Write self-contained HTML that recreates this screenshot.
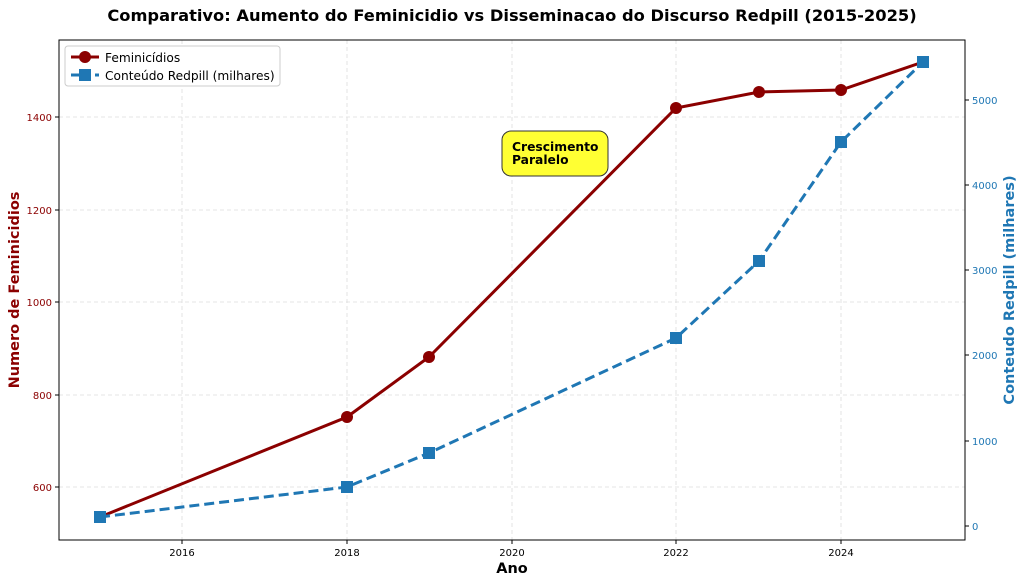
<!DOCTYPE html>
<html><head><meta charset="utf-8"><style>body{margin:0;background:#fff}</style></head><body>
<svg width="1024" height="583" xmlns="http://www.w3.org/2000/svg" font-family="DejaVu Sans, Liberation Sans, sans-serif">
<rect width="1024" height="583" fill="#fff"/>
<text x="512" y="21" text-anchor="middle" font-size="16.3" font-weight="bold">Comparativo: Aumento do Feminicidio vs Disseminacao do Discurso Redpill (2015-2025)</text>
<g stroke="#ddd" stroke-dasharray="4,3" stroke-width="0.8">
<line x1="182" y1="40" x2="182" y2="540"/><line x1="347" y1="40" x2="347" y2="540"/><line x1="512" y1="40" x2="512" y2="540"/><line x1="676" y1="40" x2="676" y2="540"/><line x1="841" y1="40" x2="841" y2="540"/>
<line x1="59" y1="117" x2="965" y2="117"/><line x1="59" y1="210" x2="965" y2="210"/><line x1="59" y1="302" x2="965" y2="302"/><line x1="59" y1="395" x2="965" y2="395"/><line x1="59" y1="487" x2="965" y2="487"/>
</g>
<rect x="59" y="40" width="906" height="500" fill="none" stroke="#000" stroke-width="1"/>
<g font-size="10" text-anchor="middle" fill="#000">
<text x="182" y="556">2016</text><text x="347" y="556">2018</text><text x="512" y="556">2020</text><text x="676" y="556">2022</text><text x="841" y="556">2024</text>
</g>
<g stroke="#000"><line x1="182" y1="540" x2="182" y2="544"/><line x1="347" y1="540" x2="347" y2="544"/><line x1="512" y1="540" x2="512" y2="544"/><line x1="676" y1="540" x2="676" y2="544"/><line x1="841" y1="540" x2="841" y2="544"/></g>
<g font-size="10" text-anchor="end" fill="#8b0000">
<text x="52" y="121">1400</text><text x="52" y="214">1200</text><text x="52" y="306">1000</text><text x="52" y="399">800</text><text x="52" y="491">600</text>
</g>
<g stroke="#000"><line x1="55" y1="117" x2="59" y2="117"/><line x1="55" y1="210" x2="59" y2="210"/><line x1="55" y1="302" x2="59" y2="302"/><line x1="55" y1="395" x2="59" y2="395"/><line x1="55" y1="487" x2="59" y2="487"/></g>
<g font-size="10" fill="#1f77b4">
<text x="972" y="530">0</text><text x="972" y="445">1000</text><text x="972" y="359">2000</text><text x="972" y="274">3000</text><text x="972" y="189">4000</text><text x="972" y="104">5000</text>
</g>
<g stroke="#000"><line x1="965" y1="526" x2="969" y2="526"/><line x1="965" y1="441" x2="969" y2="441"/><line x1="965" y1="355" x2="969" y2="355"/><line x1="965" y1="270" x2="969" y2="270"/><line x1="965" y1="185" x2="969" y2="185"/><line x1="965" y1="100" x2="969" y2="100"/></g>
<text x="512" y="573" text-anchor="middle" font-size="14.5" font-weight="bold">Ano</text>
<text transform="translate(19,290) rotate(-90)" text-anchor="middle" font-size="14.5" font-weight="bold" fill="#8b0000">Numero de Feminicidios</text>
<text transform="translate(1014,290) rotate(-90)" text-anchor="middle" font-size="14.5" font-weight="bold" fill="#1f77b4">Conteudo Redpill (milhares)</text>
<polyline points="100,517 347,417 429,357 676,108 759,92 841,90 923,62" fill="none" stroke="#8b0000" stroke-width="3"/>
<g fill="#8b0000"><circle cx="100" cy="517" r="6"/><circle cx="347" cy="417" r="6"/><circle cx="429" cy="357" r="6"/><circle cx="676" cy="108" r="6"/><circle cx="759" cy="92" r="6"/><circle cx="841" cy="90" r="6"/></g>
<polyline points="100,517 347,487 429,453 676,338 759,261 841,142 923,62" fill="none" stroke="#1f77b4" stroke-width="3" stroke-dasharray="10,5"/>
<g fill="#1f77b4"><rect x="94" y="511" width="12" height="12"/><rect x="341" y="481" width="12" height="12"/><rect x="423" y="447" width="12" height="12"/><rect x="670" y="332" width="12" height="12"/><rect x="753" y="255" width="12" height="12"/><rect x="835" y="136" width="12" height="12"/><rect x="917" y="56" width="12" height="12"/></g>
<rect x="502" y="131" width="106" height="45" rx="9" fill="#ffff33" stroke="#333"/>
<text x="512" y="151" font-size="12.3" font-weight="bold">Crescimento</text><text x="512" y="164" font-size="12.3" font-weight="bold">Paralelo</text>
<rect x="65" y="46" width="215" height="40" rx="3" fill="#fff" stroke="#ccc"/>
<line x1="71" y1="57" x2="99" y2="57" stroke="#8b0000" stroke-width="3"/><circle cx="85" cy="57" r="6" fill="#8b0000"/>
<text x="105" y="62" font-size="12.2">Feminicídios</text>
<line x1="71" y1="75" x2="99" y2="75" stroke="#1f77b4" stroke-width="3" stroke-dasharray="8,4"/><rect x="79" y="69" width="12" height="12" fill="#1f77b4"/>
<text x="105" y="80" font-size="12.2">Conteúdo Redpill (milhares)</text>
</svg>
</body></html>
